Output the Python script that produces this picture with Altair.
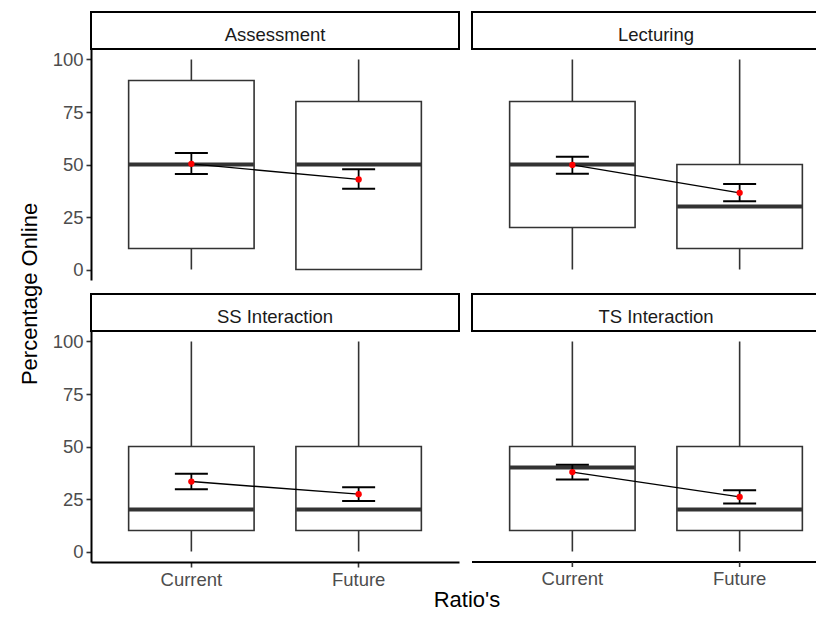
import altair as alt
import pandas as pd

FONT = "Liberation Sans, Arial, sans-serif"

panels = ["Assessment", "Lecturing", "SS Interaction", "TS Interaction"]
groups = ["Current", "Future"]

# one value per (panel, group) in order: A-Cur, A-Fut, L-Cur, L-Fut, SS-Cur, SS-Fut, TS-Cur, TS-Fut
whisker_low = [0, 0, 0, 0, 0, 0, 0, 0]
q1 = [10, 0, 20, 10, 10, 10, 10, 10]
median = [50, 50, 50, 30, 20, 20, 40, 20]
q3 = [90, 80, 80, 50, 50, 50, 50, 50]
whisker_high = [100, 100, 100, 100, 100, 100, 100, 100]
mean = [50.3, 42.9, 49.8, 36.5, 33.3, 27.3, 37.8, 26.0]
ci_low = [45.5, 38.4, 45.6, 32.5, 29.7, 24.0, 34.3, 22.9]
ci_high = [55.5, 47.7, 53.7, 40.7, 37.0, 30.6, 41.3, 29.2]

rows = []
i = 0
for p in panels:
    for g in groups:
        rows.append(dict(panel=p, group=g, lo=whisker_low[i], q1=q1[i], med=median[i],
                         q3=q3[i], hi=whisker_high[i], mean=mean[i],
                         cil=ci_low[i], cih=ci_high[i]))
        i += 1
df = pd.DataFrame(rows)

FULLW = 368
RW = 344
STRIP_H = 37
PLOT_H = 231
ROW_GAP = 14
LABEL_SIZE = 18.5
LABEL_COLOR = "#4d4d4d"


def make_plot(name, show_y, show_x, width, manual_x=False, ytitle=False, xtitle=False):
    d = df[df.panel == name]
    xs = alt.Scale(domain=groups, range=[0, FULLW], paddingInner=0, paddingOuter=0.1)
    if show_x and not manual_x:
        xaxis = alt.Axis(title=None, labelAngle=0)
    else:
        xaxis = None
    yaxis = alt.Axis(title=None, values=[0, 25, 50, 75, 100]) if show_y else None
    ys = alt.Scale(domain=[-5, 105], nice=False, zero=False)

    def X():
        return alt.X("group:N", scale=xs, axis=xaxis, sort=groups)

    def Y(f):
        return alt.Y(f + ":Q", scale=ys, axis=yaxis)

    base = alt.Chart(d)
    whisk = base.mark_rule(color="#333333", strokeWidth=1.6).encode(x=X(), y=Y("lo"), y2="hi")
    box = base.mark_bar(width={"band": 0.75}, fill="white", stroke="#333333",
                        strokeWidth=1.6).encode(x=X(), y=Y("q1"), y2="q3")
    med = base.mark_tick(size=125, thickness=4, color="#333333", opacity=1).encode(x=X(), y=Y("med"))
    err = base.mark_rule(color="black", strokeWidth=1.8).encode(x=X(), y=Y("cil"), y2="cih")
    capl = base.mark_tick(size=33, thickness=2, color="black", opacity=1).encode(x=X(), y=Y("cil"))
    caph = base.mark_tick(size=33, thickness=2, color="black", opacity=1).encode(x=X(), y=Y("cih"))
    line = base.mark_line(color="black", strokeWidth=1.4).encode(x=X(), y=Y("mean"))
    pt = base.mark_point(filled=True, color="red", size=40, opacity=1).encode(x=X(), y=Y("mean"))
    layers = [whisk, box, med, err, capl, caph, line, pt]

    if manual_x:
        # axis line, ticks and labels drawn as marks so the x scale range does not widen the layout
        rule = alt.Chart(pd.DataFrame({"a": [0]})).mark_rule(color="black", strokeWidth=2).encode(
            x=alt.value(0), x2=alt.value(width), y=alt.value(PLOT_H))
        ticks = base.mark_rule(color="#333333", strokeWidth=1.6).encode(
            x=X(), y=alt.value(PLOT_H), y2=alt.value(PLOT_H + 5))
        labels = base.mark_text(fontSize=LABEL_SIZE, font=FONT, color=LABEL_COLOR,
                                baseline="top", align="center").encode(
            x=X(), y=alt.value(PLOT_H + 8), text="group:N")
        layers += [rule, ticks, labels]
    if ytitle:
        yt = alt.Chart(pd.DataFrame({"t": ["Percentage Online"]})).mark_text(
            angle=270, fontSize=22, font=FONT, color="black", align="center", baseline="middle"
        ).encode(x=alt.value(-61), y=alt.value(-37), text="t:N")
        layers.append(yt)
    if xtitle:
        xt = alt.Chart(pd.DataFrame({"t": ["Ratio's"]})).mark_text(
            fontSize=22, font=FONT, color="black", align="center", baseline="alphabetic"
        ).encode(x=alt.value(376), y=alt.value(276), text="t:N")
        layers.append(xt)

    return alt.layer(*layers).properties(width=width, height=PLOT_H)


def make_strip(name, width, top_gap=0, open_right=False):
    sd = pd.DataFrame({"t": [name]})
    y0, y1 = top_gap, top_gap + STRIP_H
    if open_right:
        edges = [
            alt.Chart(sd).mark_rule(color="black", strokeWidth=2).encode(
                x=alt.value(0), x2=alt.value(width), y=alt.value(y0)),
            alt.Chart(sd).mark_rule(color="black", strokeWidth=2).encode(
                x=alt.value(0), x2=alt.value(width), y=alt.value(y1)),
            alt.Chart(sd).mark_rule(color="black", strokeWidth=2).encode(
                x=alt.value(0), y=alt.value(y0 - 1), y2=alt.value(y1 + 1)),
        ]
    else:
        edges = [alt.Chart(sd).mark_rect(fill="white", stroke="black", strokeWidth=2).encode(
            x=alt.value(0), x2=alt.value(width), y=alt.value(y0), y2=alt.value(y1))]
    stext = alt.Chart(sd).mark_text(fontSize=LABEL_SIZE, font=FONT, color="#1a1a1a",
                                    align="center", baseline="alphabetic").encode(
        x=alt.value(FULLW / 2), y=alt.value(top_gap + 29), text="t:N")
    return alt.layer(*edges, stext).properties(width=width, height=STRIP_H + top_gap)


s1 = make_strip("Assessment", FULLW)
s2 = make_strip("Lecturing", RW, open_right=True)
p1 = make_plot("Assessment", True, False, FULLW)
p2 = make_plot("Lecturing", False, False, RW)
s3 = make_strip("SS Interaction", FULLW, ROW_GAP)
s4 = make_strip("TS Interaction", RW, ROW_GAP, open_right=True)
p3 = make_plot("SS Interaction", True, True, FULLW, ytitle=True, xtitle=True)
p4 = make_plot("TS Interaction", False, True, RW, manual_x=True)

chart = alt.concat(
    s1, s2, p1, p2, s3, s4, p3, p4,
    columns=2, spacing={"row": 0, "column": 13}, bounds="flush", align="each"
).properties(
    padding={"left": 10, "top": 2, "right": 0, "bottom": 0},
    background="white",
).configure_view(stroke=None).configure_axis(
    grid=False, domainColor="black", domainWidth=2, tickColor="#333333", tickWidth=1.6,
    tickSize=5, labelColor=LABEL_COLOR, labelFontSize=LABEL_SIZE, labelFont=FONT, labelPadding=3
)

chart.save("out.html", embed_options={"renderer": "svg", "actions": False})
